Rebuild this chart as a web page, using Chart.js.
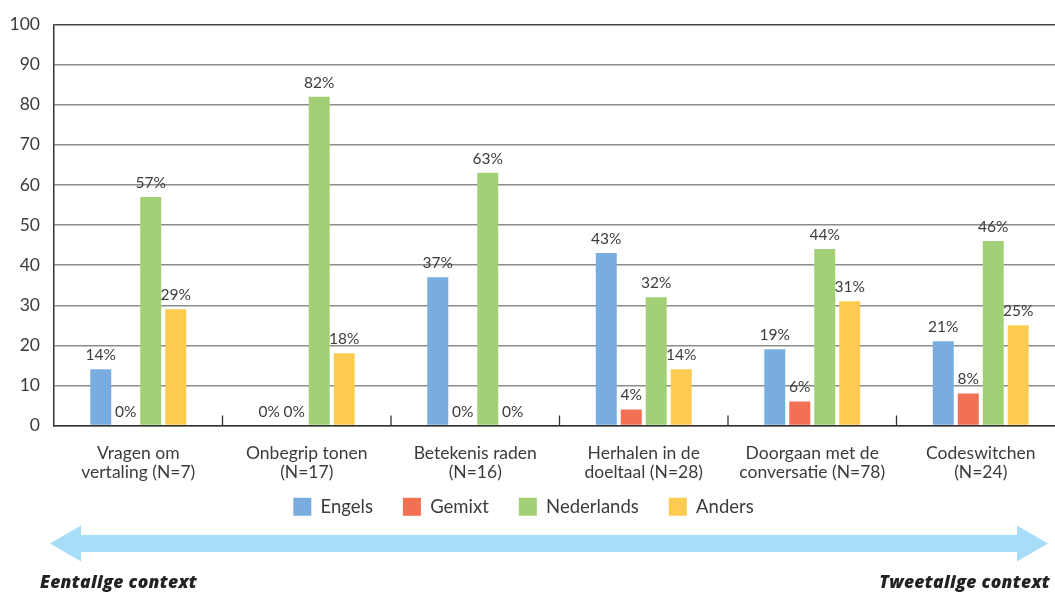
<!DOCTYPE html>
<html>
<head>
<meta charset="utf-8">
<script src="https://cdn.jsdelivr.net/npm/chart.js@4/dist/chart.umd.min.js"></script>
<style>
  html, body { margin: 0; padding: 0; background: #fff; overflow: hidden; }
  #wrap { position: relative; width: 1055px; height: 592px; overflow: hidden; }
  #box { position: absolute; left: 0; top: 0; width: 1066px; height: 592px; }
  .cap { position: absolute; top: 569px; font: italic 800 17.5px 'Open Sans', sans-serif; letter-spacing: 0.3px; color: #222; white-space: nowrap; }
</style>
</head>
<body>
<div id="wrap">
  <div id="box"><canvas id="chart"></canvas></div>
  <div class="cap" style="left:40px">Eentalige context</div>
  <div class="cap" style="right:5px">Tweetalige context</div>
</div>
<script>
// category labels (two lines each)
const categories = [
    ['Vragen om', 'vertaling (N=7)'],
    ['Onbegrip tonen', '(N=17)'],
    ['Betekenis raden', '(N=16)'],
    ['Herhalen in de', 'doeltaal (N=28)'],
    ['Doorgaan met de', 'conversatie (N=78)'],
    ['Codeswitchen', '(N=24)']
];
const seriesNames = ['Engels', 'Gemixt', 'Nederlands', 'Anders'];
const engels     = [14, 0, 37, 43, 19, 21];
const gemixt     = [0, 0, 0, 4, 6, 8];
const nederlands = [57, 82, 63, 32, 44, 46];
const anders     = [29, 18, 0, 14, 31, 25];
const colors = ['#79acdf', '#f27153', '#a3d077', '#fdcb50'];
const yTicks = [0, 10, 20, 30, 40, 50, 60, 70, 80, 90, 100];

const FONT = "'Lato', sans-serif";
const TEXT = '#3c3c3c';

// percentage labels above bars + short inward ticks between categories
const barLabels = {
    id: 'barLabels',
    afterDatasetsDraw(chart) {
        const ctx = chart.ctx;
        ctx.save();
        ctx.font = '15.5px ' + FONT;
        ctx.fillStyle = TEXT;
        ctx.textAlign = 'center';
        ctx.textBaseline = 'middle';
        chart.data.datasets.forEach((ds, i) => {
            chart.getDatasetMeta(i).data.forEach((bar, j) => {
                ctx.fillText(ds.data[j] + '%', bar.x, bar.y - 14);
            });
        });
        const xs = chart.scales.x, bottom = chart.chartArea.bottom;
        ctx.strokeStyle = '#333';
        ctx.lineWidth = 1.3;
        for (let i = 1; i < categories.length; i++) {
            const x = (xs.getPixelForValue(i - 1) + xs.getPixelForValue(i)) / 2;
            ctx.beginPath();
            ctx.moveTo(x, bottom - 10);
            ctx.lineTo(x, bottom);
            ctx.stroke();
        }
        ctx.restore();
    }
};

// pull the legend up a bit (its padding is also used between the items)
const legendNudge = {
    id: 'legendNudge',
    afterLayout(chart) {
        const lg = chart.legend;
        lg.top -= 20; lg.bottom -= 20;
        lg.left -= 9; lg.right -= 9;
    }
};

// the double arrow under the legend
const arrow = {
    id: 'arrow',
    afterDraw(chart) {
        const ctx = chart.ctx;
        const x1 = 50, x2 = 1048, y = 543.5, shaft = 8.5, head = 18, hl = 31;
        ctx.save();
        ctx.fillStyle = '#a7ddf8';
        ctx.beginPath();
        ctx.moveTo(x1, y);
        ctx.lineTo(x1 + hl, y - head);
        ctx.lineTo(x1 + hl, y - shaft);
        ctx.lineTo(x2 - hl, y - shaft);
        ctx.lineTo(x2 - hl, y - head);
        ctx.lineTo(x2, y);
        ctx.lineTo(x2 - hl, y + head);
        ctx.lineTo(x2 - hl, y + shaft);
        ctx.lineTo(x1 + hl, y + shaft);
        ctx.lineTo(x1 + hl, y + head);
        ctx.closePath();
        ctx.fill();
        ctx.restore();
    }
};

const allData = [engels, gemixt, nederlands, anders];

new Chart(document.getElementById('chart'), {
    type: 'bar',
    data: {
        labels: categories,
        datasets: seriesNames.map((name, i) => ({
            label: name,
            data: allData[i],
            backgroundColor: colors[i],
            borderWidth: 0,
            categoryPercentage: 0.593,
            barPercentage: 0.84
        }))
    },
    options: {
        responsive: true,
        maintainAspectRatio: false,
        animation: false,
        layout: { padding: { top: 16, right: 1, bottom: 46, left: 0 } },
        plugins: {
            legend: {
                position: 'bottom',
                labels: {
                    boxWidth: 18, boxHeight: 18, padding: 30,
                    color: TEXT,
                    font: { family: FONT, size: 18.5 }
                }
            },
            tooltip: { enabled: false }
        },
        scales: {
            x: {
                grid: { display: false },
                border: { display: true, color: '#333', width: 1.5 },
                ticks: { color: TEXT, font: { family: FONT, size: 17.5, lineHeight: 1.05 }, padding: 11, maxRotation: 0 },
                afterFit: s => { s.height = 62; }
            },
            y: {
                min: 0, max: 100,
                afterBuildTicks: s => { s.ticks = yTicks.map(v => ({ value: v })); },
                grid: {
                    color: c => (c.tick.value === 100 ? '#444' : '#8c8c8c'),
                    lineWidth: 1.4,
                    drawTicks: false
                },
                border: { display: true, color: '#333', width: 1.5 },
                ticks: { color: TEXT, font: { family: FONT, size: 17.5 }, padding: 14 },
                afterFit: s => { s.width = 54; }
            }
        }
    },
    plugins: [barLabels, legendNudge, arrow]
});
</script>
</body>
</html>
